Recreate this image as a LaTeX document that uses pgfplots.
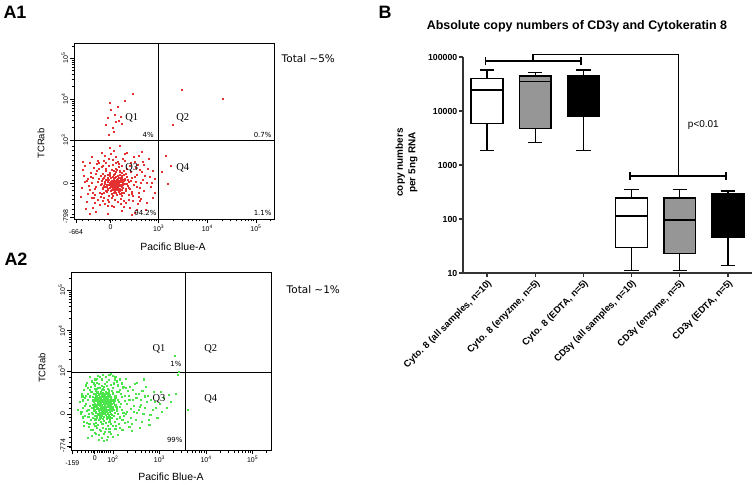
\documentclass[border=0pt]{standalone}
\usepackage{fontspec}
\setmainfont{Liberation Sans}
\newfontfamily\dvs{DejaVu Sans}
\newfontfamily\lser{Liberation Serif}
\usepackage{pgfplots}
\pgfplotsset{compat=1.18}
\usepgfplotslibrary{statistics}
\definecolor{flowred}{RGB}{228,50,50}
\definecolor{flowgreen}{RGB}{75,228,75}
\definecolor{boxgray}{RGB}{150,150,150}
\pgfplotsset{
  flowaxis/.style={scale only axis, anchor=south west,
    axis line style={line width=0.7bp},
    tick pos=left, tick align=outside,
    major tick length=4bp, minor tick length=2.5bp,
    tick style={black, line width=0.6bp},
    tick label style={font=\fontsize{7}{8}\selectfont},
    yticklabel style={rotate=90, anchor=south, inner sep=1.5bp},
    xticklabel style={inner sep=1.5bp},
    extra x tick style={xticklabel style={yshift=-5bp}},
  },
  quad/.style={black, line width=0.7bp, mark=none},
}
\begin{document}
\begin{tikzpicture}
\useasboundingbox (0,0) rectangle (756bp,485bp);

% ---------------- A1 ----------------
\begin{axis}[flowaxis, at={(74bp,266bp)}, width=200bp, height=176bp,
  xmin=1.26, xmax=5.37, ymin=1.07, ymax=5.37,
  xtick={2.01,3,4,5}, xticklabels={0,10\textsuperscript{3},10\textsuperscript{4},10\textsuperscript{5}},
  extra x ticks={1.30}, extra x tick labels={-664},
  ytick={1.93,3,4,5}, yticklabels={0,10\textsuperscript{3},10\textsuperscript{4},10\textsuperscript{5}},
  extra y ticks={1.12}, extra y tick labels={-798},
  minor xtick={1.43,1.55,1.69,1.79,1.89,1.98,2.05,2.10,2.22,2.34,2.44,2.54,2.64,2.73,2.80,2.85,2.90,2.95,3.301,3.477,3.602,3.699,3.778,3.845,3.903,3.954,4.301,4.477,4.602,4.699,4.778,4.845,4.903,4.954,5.301},
  minor ytick={1.18,1.30,1.42,1.54,1.66,1.78,1.88,2.02,2.14,2.26,2.38,2.50,2.62,2.75,2.85,3.301,3.477,3.602,3.699,3.778,3.845,3.903,3.954,4.301,4.477,4.602,4.699,4.778,4.845,4.903,4.954,5.301},
]
\addplot[only marks, mark=square*, mark size=0.5bp, flowred] coordinates {
(2.05,1.92) (2.12,1.98) (2.18,1.88) (1.98,2.03) (2.22,2.07) (2.09,1.81) (1.94,1.90) (2.15,2.14) (2.27,1.95) (2.02,1.76) (1.89,1.99) (2.11,2.22) (2.31,2.02) (2.24,1.79) (1.96,2.16) (2.07,2.05) (2.19,1.70) (1.85,1.84) (2.36,1.89) (2.13,1.93)
(2.01,1.99) (2.16,2.01) (2.08,1.87) (1.92,1.77) (2.25,2.19) (2.04,2.28) (2.29,1.72) (1.87,2.09) (2.20,1.97) (2.10,1.75) (1.99,1.84) (2.34,2.11) (2.14,1.66) (1.91,2.24) (2.06,1.96) (2.23,1.86) (2.17,2.09) (1.83,1.93) (2.28,2.26) (2.00,2.12)
(2.12,1.83) (2.03,1.69) (2.21,2.03) (1.95,1.97) (2.38,1.98) (2.09,2.18) (2.26,1.91) (1.88,1.71) (2.15,1.78) (2.02,2.07) (2.19,2.24) (1.93,1.86) (2.32,1.80) (2.07,1.91) (2.24,2.13) (1.97,1.63) (2.11,2.00) (1.86,2.17) (2.30,2.06) (2.05,1.82)
(2.18,1.94) (2.00,1.95) (2.13,2.27) (2.27,1.84) (1.90,1.93) (2.08,1.72) (2.21,1.68) (1.96,2.08) (2.35,1.93) (2.10,1.89) (2.16,2.06) (1.84,1.80) (2.04,2.01) (2.23,1.99) (2.14,1.85) (1.99,2.21) (2.29,2.16) (2.06,1.64) (2.20,1.82) (1.92,2.02)
(2.09,1.95) (2.17,1.73) (2.01,1.88) (2.25,2.09) (1.94,1.74) (2.12,2.11) (2.33,1.76) (2.07,2.24) (1.88,1.88) (2.22,1.92) (2.15,1.97) (2.03,1.79) (2.28,2.00) (1.97,1.92) (2.11,1.78) (2.19,2.16) (2.05,2.10) (1.90,2.12) (2.37,2.04) (2.13,1.90)
(2.08,2.02) (2.24,1.71) (1.82,2.00) (2.16,1.87) (2.02,1.93) (2.26,1.97) (2.10,2.08) (1.95,1.81) (2.20,2.22) (2.06,1.85)
(1.62,1.95) (1.71,2.18) (1.58,1.78) (1.75,1.55) (1.66,2.32) (1.79,1.42) (1.54,2.05) (1.69,1.67) (1.73,2.41) (1.60,2.21)
(2.48,1.92) (2.55,2.15) (2.44,1.70) (2.61,1.84) (2.52,2.33) (2.46,1.52) (2.67,2.03) (2.58,1.61) (2.43,2.45) (2.70,1.77)
(1.92,2.45) (2.05,2.52) (2.18,2.41) (2.31,2.50) (1.85,2.38) (2.11,2.58) (2.24,2.36) (1.98,2.55) (2.40,2.38) (2.15,2.47)
(1.90,1.45) (2.03,1.40) (2.16,1.49) (2.29,1.38) (1.84,1.52) (2.10,1.55) (2.22,1.44) (1.97,1.50) (2.38,1.55) (2.08,1.36)
(1.63,1.58) (1.77,2.29) (2.50,2.48) (2.56,1.45) (1.68,1.48) (2.62,2.28) (1.56,1.88) (2.42,2.22) (1.80,1.61) (2.47,1.65)
(1.74,1.97) (2.53,1.99) (1.65,2.08) (2.59,1.71) (1.78,1.72) (2.41,1.81) (1.70,1.85) (2.45,2.08) (1.81,2.14) (2.39,1.66)
(1.64,1.72) (2.57,2.39) (1.87,2.50) (2.33,1.47) (1.76,2.45) (2.64,1.57) (1.52,2.00) (2.72,2.12) (1.95,1.39) (2.26,2.55)
(1.42,1.83) (1.45,2.12) (1.40,1.61) (1.48,2.38) (2.78,2.30) (2.85,1.96) (2.91,1.72) (2.80,2.55) (2.88,2.25) (2.75,1.48)
(1.70,1.25) (1.95,1.20) (2.25,1.28) (2.50,1.22) (1.83,2.68) (2.08,2.75) (2.35,2.70) (2.58,2.62) (1.62,2.60) (2.20,2.85)
(2.00,2.82) (2.65,2.72) (1.50,1.32) (2.74,1.30) (2.83,1.85) (1.44,2.48) (2.45,1.18) (2.92,2.05) (1.58,1.20) (2.68,2.48)
(2.04,1.95) (2.14,1.96) (2.10,1.92) (2.07,1.99) (2.18,2.00) (2.02,1.86) (2.13,2.04) (2.21,1.89) (1.99,1.93) (2.09,2.09)
(2.16,1.82) (2.05,1.78) (2.23,2.11) (1.94,2.04) (2.12,1.72) (2.26,2.03) (2.00,2.17) (2.19,1.77) (2.08,2.15) (1.96,1.79)
(2.30,1.94) (1.89,1.86) (2.11,2.30) (2.33,2.18) (1.86,2.06) (2.25,1.64) (2.03,1.60) (1.91,2.29) (2.39,1.84) (2.17,2.35)
(1.80,1.90) (2.42,2.00) (1.97,2.36) (2.21,1.57) (1.83,1.68) (2.34,2.31) (2.06,2.40) (1.77,2.05) (2.45,1.74) (1.88,1.58)
(1.68,1.80) (2.50,2.10) (1.72,2.26) (2.54,1.87) (1.60,2.10) (2.63,1.95) (1.95,1.53) (2.28,1.51) (2.12,2.44) (1.82,2.35)
(1.55,1.70) (2.66,2.22) (1.66,1.60) (2.60,1.52) (1.75,2.50) (2.49,2.58) (1.47,1.98) (2.76,1.95) (2.02,2.66) (2.40,1.35)
(1.58,2.45) (2.70,2.40) (1.53,1.50) (2.82,2.10) (1.90,2.62) (2.30,2.66) (1.43,2.28) (2.87,1.60) (1.65,1.35) (2.55,1.30)
(1.98,3.12) (2.05,3.30) (2.12,3.45) (1.95,3.55) (2.10,3.62) (2.18,3.48) (2.02,3.75) (2.15,3.82) (1.99,3.90) (2.22,3.58) (2.08,3.20) (2.25,3.40) (2.46,4.12) (2.30,3.95) (1.92,3.38)
(3.47,4.24) (3.28,3.37) (4.31,4.00)
(3.14,2.61) (3.24,2.37) (3.18,1.94) (3.06,2.23)
};
\addplot[quad] coordinates {(3,1.07) (3,5.37)};
\addplot[quad] coordinates {(1.26,3) (5.37,3)};
\end{axis}

% ---------------- A2 ----------------
\begin{axis}[flowaxis, at={(71bp,35bp)}, width=200.7bp, height=177.7bp,
  xmin=1.10, xmax=5.41, ymin=1.05, ymax=5.44,
  xtick={1.61,2,3,4,5}, xticklabels={0,10\textsuperscript{2},10\textsuperscript{3},10\textsuperscript{4},10\textsuperscript{5}},
  extra x ticks={1.13}, extra x tick labels={-159},
  ytick={1.94,3,4,5}, yticklabels={0,10\textsuperscript{3},10\textsuperscript{4},10\textsuperscript{5}},
  extra y ticks={1.15}, extra y tick labels={-774},
  minor xtick={1.24,1.33,1.41,1.48,1.54,1.58,1.66,1.70,1.74,1.78,1.82,1.86,1.90,1.95,2.301,2.477,2.602,2.699,2.778,2.845,2.903,2.954,3.301,3.477,3.602,3.699,3.778,3.845,3.903,3.954,4.301,4.477,4.602,4.699,4.778,4.845,4.903,4.954,5.301},
  minor ytick={1.12,1.24,1.37,1.50,1.62,1.75,1.86,2.07,2.20,2.34,2.47,2.60,2.73,2.85,3.301,3.477,3.602,3.699,3.778,3.845,3.903,3.954,4.301,4.477,4.602,4.699,4.778,4.845,4.903,4.954,5.301},
]
\addplot[only marks, mark=square*, mark size=0.55bp, flowgreen] coordinates {
(1.76,2.16) (1.68,2.25) (1.82,2.05) (1.71,1.98) (1.88,2.31) (1.63,2.11) (1.79,2.42) (1.92,2.14) (1.74,1.86) (1.85,2.20)
(1.66,2.38) (1.95,1.95) (1.72,2.29) (1.81,1.78) (1.59,2.02) (1.90,2.48) (1.77,2.09) (2.01,2.22) (1.69,1.92) (1.84,2.35)
(1.62,2.26) (1.97,2.07) (1.75,2.55) (1.87,1.88) (1.57,2.18) (2.04,2.33) (1.70,2.06) (1.80,2.61) (1.93,1.80) (1.65,1.84)
(1.78,2.24) (1.99,2.44) (1.60,2.35) (1.86,2.12) (1.73,1.75) (2.08,2.01) (1.67,2.50) (1.83,1.96) (1.96,2.27) (1.55,2.09)
(1.74,2.33) (1.89,2.04) (1.64,1.97) (2.02,1.90) (1.79,2.47) (1.71,2.14) (1.94,2.38) (1.58,2.43) (1.85,1.72) (1.77,1.94)
(2.06,2.18) (1.68,2.60) (1.81,2.28) (1.61,1.90) (1.91,2.21) (1.75,2.02) (1.98,1.85) (1.70,2.41) (1.88,2.57) (1.56,2.28)
(1.83,2.10) (2.11,2.29) (1.66,2.17) (1.93,2.00) (1.78,1.82) (1.86,2.43) (1.63,2.52) (2.00,2.11) (1.73,2.20) (1.90,1.91)
(1.69,1.79) (2.05,2.40) (1.80,2.19) (1.59,2.13) (1.95,2.32) (1.76,2.64) (1.87,1.99) (1.64,2.31) (2.09,2.08) (1.72,1.88)
(1.84,2.26) (1.97,2.52) (1.61,2.04) (1.79,2.07) (1.92,1.76) (1.67,2.22) (2.03,1.97) (1.74,2.49) (1.82,2.39) (1.57,1.95)
(1.89,2.16) (1.70,2.33) (2.13,2.24) (1.77,1.71) (1.85,2.06) (1.62,2.44) (1.98,2.19) (1.73,2.12) (1.90,2.36) (1.66,1.89)
(1.81,2.53) (1.94,2.09) (1.58,2.24) (2.07,2.13) (1.75,1.96) (1.86,1.82) (1.68,2.10) (1.99,2.28) (1.79,2.30) (1.63,2.00)
(1.91,2.45) (1.72,2.58) (2.01,2.04) (1.84,1.93) (1.60,2.15) (1.95,2.23) (1.77,2.37) (1.87,2.01) (1.65,2.46) (2.10,1.94)
(1.80,1.87) (1.71,2.23) (1.93,2.30) (1.56,2.36) (1.83,2.17) (1.97,1.92) (1.74,2.07) (2.04,2.26) (1.69,2.03) (1.88,2.40)
(1.62,1.81) (1.78,2.56) (1.90,2.11) (1.67,2.28) (2.06,2.35) (1.81,2.00) (1.95,2.14) (1.73,2.43) (1.85,2.50) (1.59,2.08)
(1.76,1.90) (1.98,2.01) (1.70,2.17) (1.89,2.27) (1.64,2.39) (2.00,2.47) (1.82,2.13) (1.75,2.30) (1.92,1.86) (1.66,2.06)
(1.87,2.22) (1.78,2.03) (1.61,2.30) (2.03,2.16) (1.72,1.83) (1.94,2.42) (1.80,2.34) (1.68,1.94) (1.86,2.63) (1.99,2.06)
(1.35,2.10) (1.40,2.35) (1.30,1.95) (1.45,2.60) (1.38,1.75) (1.48,1.62) (1.42,2.20) (1.33,2.45) (1.47,1.88) (1.28,2.25)
(1.52,1.55) (1.60,1.48) (1.70,1.42) (1.82,1.50) (1.95,1.45) (2.05,1.58) (1.75,1.35) (1.88,1.38) (1.65,1.60) (2.00,1.65)
(1.55,2.75) (1.65,2.82) (1.78,2.90) (1.90,2.78) (2.02,2.70) (1.70,2.68) (1.85,2.85) (1.60,2.65) (1.96,2.93) (1.50,2.55)
(2.15,2.55) (2.20,1.80) (2.25,2.40) (2.18,2.05) (2.30,2.20) (2.12,1.70) (2.22,2.62) (2.28,1.95) (2.35,2.30) (2.16,2.45)
(1.58,1.70) (1.52,2.48) (1.44,2.02) (2.10,2.65) (1.92,1.58) (1.74,1.52) (2.26,1.72) (1.36,1.86) (2.08,2.75) (1.62,1.65)
(1.80,1.28) (1.55,1.40) (2.10,1.42) (1.68,2.88) (2.38,2.08) (1.25,2.05) (2.32,2.52) (1.46,1.35) (2.20,1.55) (1.99,2.88)
(2.45,2.15) (2.52,1.98) (2.60,2.30) (2.48,1.80) (2.68,2.10) (2.75,2.40) (2.55,2.45) (2.80,1.92) (2.62,1.75) (2.90,2.25)
(2.42,2.55) (2.70,2.62) (2.85,2.05) (2.58,1.60) (3.00,2.20) (3.10,2.35) (2.95,1.85) (2.40,1.70) (2.65,1.95) (3.20,2.42)
(2.50,2.35) (2.78,1.68) (2.44,2.00) (2.72,2.25) (2.57,2.12) (2.88,2.50) (3.05,2.00) (2.46,2.68) (2.35,1.62) (2.63,2.52)
(1.45,2.30) (1.50,2.15) (1.48,1.95) (1.52,2.62) (1.46,2.45) (1.53,1.80) (1.44,2.72) (1.49,1.70) (1.51,2.38) (1.47,2.05)
(2.15,2.12) (2.18,2.36) (2.22,1.98) (2.14,1.86) (2.25,2.26) (2.19,2.70) (2.12,2.50) (2.24,1.90) (2.17,2.20) (2.21,2.58)
(1.66,2.72) (1.76,2.80) (1.86,2.74) (1.95,2.66) (1.72,2.86) (1.82,2.68) (1.62,2.80) (2.03,2.80) (1.92,2.90) (1.58,2.70)
(1.68,1.68) (1.78,1.60) (1.88,1.65) (1.96,1.70) (1.72,1.55) (1.84,1.57) (1.63,1.72) (2.04,1.75) (1.92,1.50) (1.80,1.45)
(1.73,2.15) (1.79,2.13) (1.71,2.36) (1.82,2.22) (1.77,2.27) (1.69,2.44) (1.84,2.00) (1.78,1.98) (1.74,2.25) (1.81,2.09)
(1.70,2.29) (1.76,2.40) (1.88,2.18) (1.85,2.30) (1.67,2.33) (1.90,2.25) (1.72,2.04) (1.80,2.45) (1.86,2.36) (1.75,2.11)
(1.93,2.17) (1.96,2.36) (1.65,2.12) (1.89,1.96) (1.83,2.43) (1.94,2.05) (1.71,1.91) (1.87,2.47) (1.60,2.19) (1.98,2.12)
(2.30,2.00) (2.34,2.40) (2.28,2.60) (2.38,1.85) (2.42,2.30) (2.32,1.75) (2.48,2.45) (2.55,2.05) (2.36,2.62) (2.60,2.18)
(1.40,1.90) (1.38,2.55) (1.42,2.40) (1.35,2.28) (1.43,1.72) (1.39,2.15) (1.32,2.00) (1.41,2.65) (1.37,1.65) (1.34,2.38)
(2.05,2.85) (2.15,2.80) (1.50,2.85) (2.28,2.82) (1.56,1.55) (2.14,1.60) (1.64,1.45) (2.00,1.38) (1.86,1.30) (1.70,1.30)
(2.52,2.72) (2.68,2.38) (2.82,2.30) (2.76,1.80) (2.92,2.10) (3.02,2.48) (3.15,2.10) (2.66,2.80) (2.40,1.52) (3.25,2.25)
(1.60,2.56) (1.99,2.60) (2.08,2.48) (1.55,2.50) (2.09,1.82) (1.57,1.85) (1.91,2.55) (1.66,2.57) (2.06,1.66) (1.54,1.98)
(3.40,2.90) (3.35,2.45) (3.33,3.37) (3.42,2.99) (3.61,2.04)
};
\addplot[quad] coordinates {(3.56,1.05) (3.56,5.44)};
\addplot[quad] coordinates {(1.10,2.97) (5.41,2.97)};
\end{axis}

% ---------------- A texts ----------------
\node[font=\bfseries\fontsize{18}{18}\selectfont] at (15bp,473bp) {A1};
\node[font=\bfseries\fontsize{18}{18}\selectfont] at (16bp,226bp) {A2};
\node[font=\bfseries\fontsize{18}{18}\selectfont] at (385bp,473bp) {B};

\begin{scope}[every node/.style={font=\lser\fontsize{10.5}{12}\selectfont, inner sep=0pt}]
\node at (131.7bp,366.7bp) {Q1};
\node at (182.7bp,366.7bp) {Q2};
\node at (131.7bp,316.7bp) {Q3};
\node at (182.7bp,316.7bp) {Q4};
\node at (159bp,135.7bp) {Q1};
\node at (210.7bp,135.7bp) {Q2};
\node at (159bp,85.7bp) {Q3};
\node at (210.7bp,85.7bp) {Q4};
\end{scope}
\begin{scope}[every node/.style={font=\dvs\fontsize{7}{8}\selectfont, inner sep=0pt, anchor=east}]
\node at (154bp,349.7bp) {4\%};
\node at (271.7bp,349.7bp) {0.7\%};
\node at (156.7bp,272.3bp) {94.2\%};
\node at (271.7bp,272.3bp) {1.1\%};
\node at (181.7bp,121bp) {1\%};
\node at (182.7bp,44.7bp) {99\%};
\end{scope}
\node[font=\dvs\fontsize{10.5}{12}\selectfont] at (308.3bp,426.7bp) {Total \textasciitilde5\%};
\node[font=\dvs\fontsize{10.5}{12}\selectfont] at (313.3bp,195.7bp) {Total \textasciitilde1\%};
\node[font=\fontsize{10.5}{12}\selectfont] at (173bp,238.3bp) {Pacific Blue-A};
\node[font=\fontsize{10.5}{12}\selectfont] at (171bp,8bp) {Pacific Blue-A};
\node[font=\fontsize{9.5}{11}\selectfont, rotate=90] at (41bp,341.5bp) {TCRab};
\node[font=\fontsize{9.5}{11}\selectfont, rotate=90] at (42bp,117bp) {TCRab};

% ---------------- B ----------------
\begin{axis}[at={(463bp,212bp)}, anchor=south west, width=289bp, height=216bp, scale only axis,
  ymode=log, ymin=10, ymax=100000, xmin=0.5, xmax=6.5,
  axis x line*=bottom, axis y line*=left,
  axis line style={line width=1.2bp, black!80, -},
  ytick={10,100,1000,10000,100000}, yticklabels={10,100,1000,10000,100000}, yminorticks=false,
  xtick={1,2,3,4,5,6},
  xticklabels={{Cyto. 8 (all samples, n=10)},{Cyto. 8 (enyzme, n=5)},{Cyto. 8 (EDTA, n=5)},{CD3γ (all samples, n=10)},{CD3γ (enzyme, n=5)},{CD3γ (EDTA, n=5)}},
  tick style={line width=1.2bp, black!80}, major tick length=4.5bp, tick align=outside,
  yticklabel style={font=\bfseries\fontsize{8.8}{10}\selectfont, inner sep=1bp},
  xticklabel style={font=\bfseries\fontsize{9.5}{11}\selectfont, rotate=45, anchor=north east, inner sep=1bp},
  clip=false, boxplot/draw direction=y]
\addplot[draw=black, line width=1.4bp, fill=white, boxplot prepared={draw position=1, lower whisker=1860, lower quartile=5800, median=24500, upper quartile=40000, upper whisker=57000, box extend=0.66, whisker extend=0.3}] coordinates {};
\addplot[draw=black, line width=1.4bp, fill=boxgray, boxplot prepared={draw position=2, lower whisker=2600, lower quartile=4800, median=35500, upper quartile=44500, upper whisker=52000, box extend=0.66, whisker extend=0.3}] coordinates {};
\addplot[draw=black, line width=1.4bp, fill=black, boxplot prepared={draw position=3, lower whisker=1860, lower quartile=8100, median=30000, upper quartile=46000, upper whisker=57000, box extend=0.66, whisker extend=0.3}] coordinates {};
\addplot[draw=black, line width=1.4bp, fill=white, boxplot prepared={draw position=4, lower whisker=11, lower quartile=30, median=113, upper quartile=245, upper whisker=355, box extend=0.66, whisker extend=0.3}] coordinates {};
\addplot[draw=black, line width=1.4bp, fill=boxgray, boxplot prepared={draw position=5, lower whisker=11, lower quartile=23, median=96, upper quartile=245, upper whisker=355, box extend=0.66, whisker extend=0.3}] coordinates {};
\addplot[draw=black, line width=1.4bp, fill=black, boxplot prepared={draw position=6, lower whisker=13.6, lower quartile=46, median=150, upper quartile=290, upper whisker=330, box extend=0.66, whisker extend=0.3}] coordinates {};
% brackets
\addplot[black, line width=1.4bp, mark=none] coordinates {(0.97,85000) (2.95,85000)};
\addplot[black, line width=1.4bp, mark=none] coordinates {(0.97,72000) (0.97,100000)};
\addplot[black, line width=1.4bp, mark=none] coordinates {(2.95,72000) (2.95,100000)};
\addplot[black, line width=1.4bp, mark=none] coordinates {(1.95,85000) (1.95,112000) (4.98,112000) (4.98,630)};
\addplot[black, line width=1.4bp, mark=none] coordinates {(3.97,630) (5.96,630)};
\addplot[black, line width=1.4bp, mark=none] coordinates {(3.97,531) (3.97,747)};
\addplot[black, line width=1.4bp, mark=none] coordinates {(5.96,531) (5.96,747)};
\node[font=\fontsize{10}{12}\selectfont] at (axis cs:5.49,5500) {p<0.01};
\end{axis}
\node[font=\bfseries\fontsize{12.5}{14}\selectfont] at (577bp,459bp) {Absolute copy numbers of CD3γ and Cytokeratin 8};
\node[font=\bfseries\fontsize{10}{12.6}\selectfont, rotate=90, align=center] at (406.5bp,322.5bp) {copy numbers\\per 5ng RNA};
\end{tikzpicture}
\end{document}
